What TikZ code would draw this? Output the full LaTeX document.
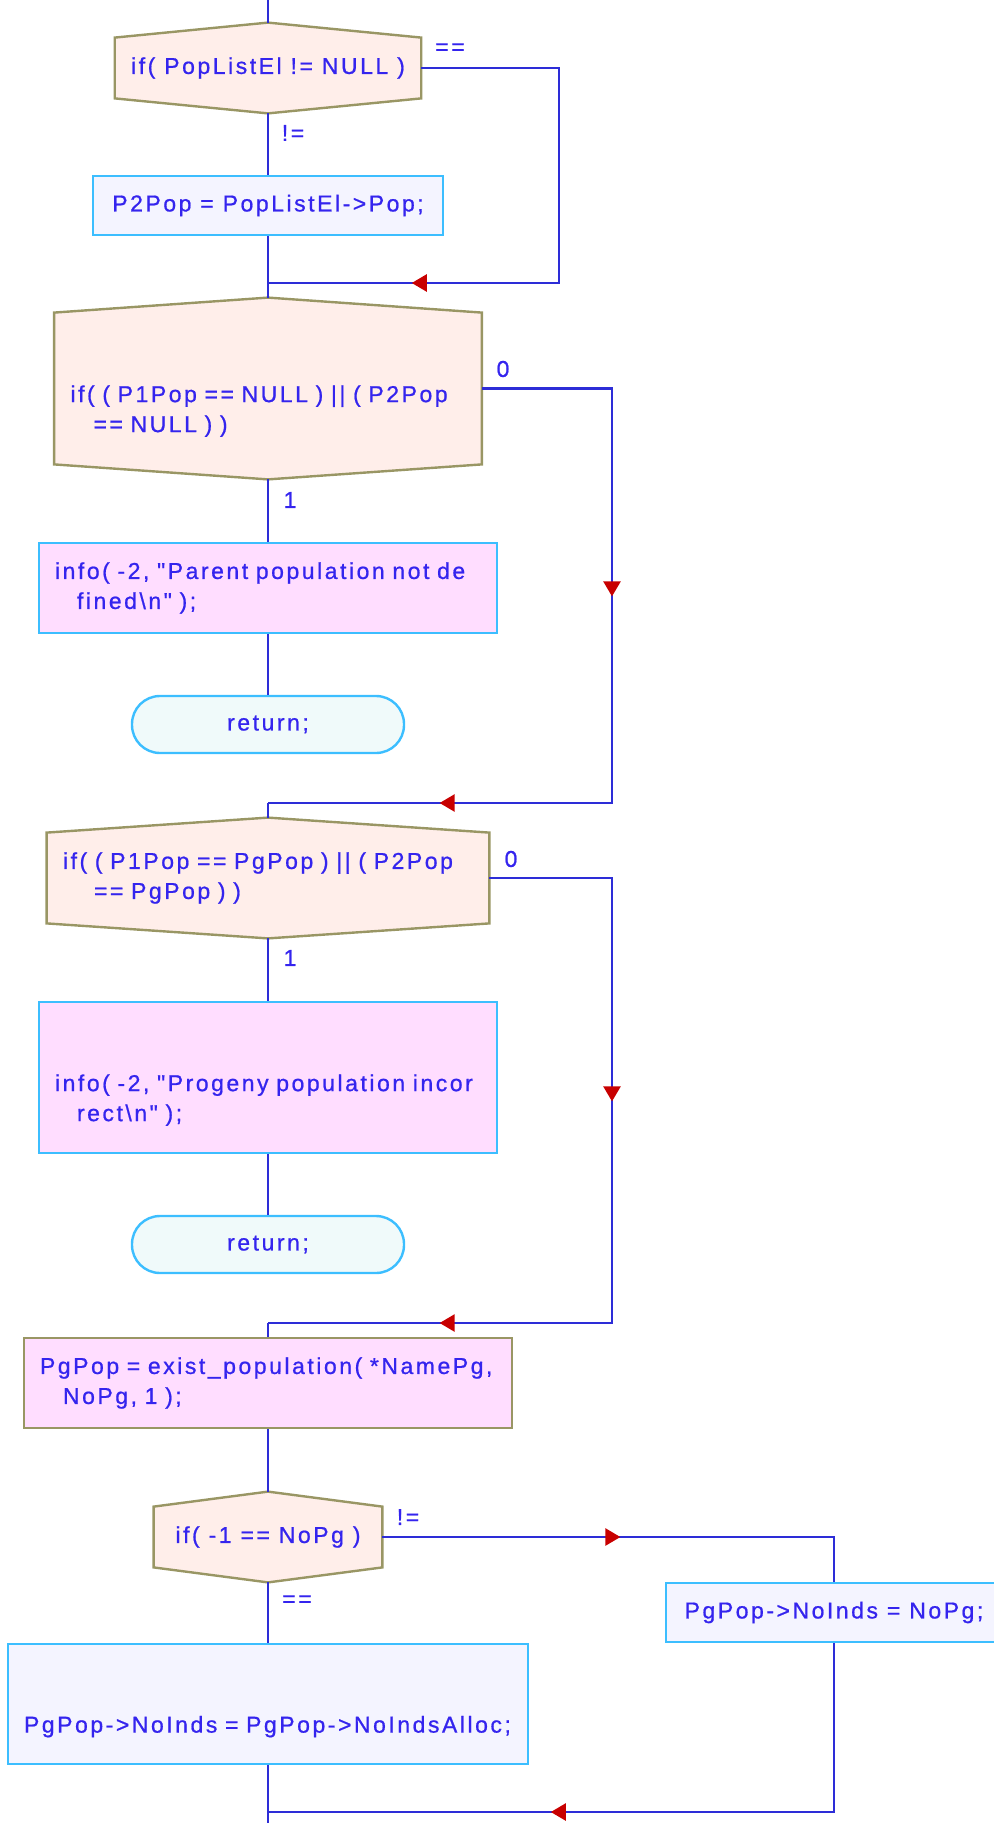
\documentclass[tikz,border=0pt]{standalone}
\usepackage{fontspec}
\setmainfont{Liberation Sans}[LetterSpace=11, Ligatures=TeXOff, FakeBold=0.8]
\usepackage{xcolor}
\usepackage{tikz}
\usetikzlibrary{
	arrows.meta,
	calc,
	backgrounds,
	decorations.markings,
	positioning,
	shapes.misc
}

\definecolor{txtblue}{RGB}{52,36,238}
\definecolor{lineblue}{RGB}{45,45,215}
\definecolor{tipred}{RGB}{200,0,0}
\definecolor{hexfill}{RGB}{255,238,234}
\definecolor{hexedge}{RGB}{153,150,100}
\definecolor{boxedge}{RGB}{60,190,255}
\definecolor{procfill}{RGB}{244,244,255}
\definecolor{infofill}{RGB}{255,221,255}
\definecolor{endfill}{RGB}{240,250,250}

\tikzset{
	every node/.style={font=\fontsize{11.5}{15}\selectfont, text=txtblue},
	flow/.style={draw=lineblue, line width=1.2pt},
	hexline/.style={draw=hexedge, fill=hexfill, line width=1.2pt},
	procbox/.style={draw=boxedge, fill=procfill, line width=1.2pt, inner xsep=8pt},
	infobox/.style={draw=boxedge, fill=infofill, line width=1.2pt, inner xsep=8pt},
	callbox/.style={draw=hexedge, fill=infofill, line width=1.2pt, inner xsep=8pt},
	endbox/.style={draw=boxedge, fill=endfill, line width=1.2pt, rounded corners=14pt},
	lbl/.style={inner sep=0pt},
	redtip/.tip={Triangle[length=7.5pt, width=8.5pt, color=tipred]},
	tipat/.style={postaction={decorate, decoration={markings, mark=at position #1 with {\arrow{redtip}}}}}
}

% hexagon behind a decision node, peaks named <node>-top / <node>-bot
\newcommand{\hexframe}[1]{%
	\begin{scope}[on background layer]
		\draw[hexline] (#1.north west) -- ($(#1.north)+(0,-15)$) coordinate (#1-top)
			-- (#1.north east) -- (#1.south east)
			-- ($(#1.south)+(0,15)$) coordinate (#1-bot) -- (#1.south west) -- cycle;
	\end{scope}}

\begin{document}
\begin{tikzpicture}[x=0.5pt, y=-0.5pt]
	\useasboundingbox (0,0) rectangle (993,1823);
	% rails on the right
	\coordinate (rail1) at (559,0);
	\coordinate (rail2) at (612,0);
	\coordinate (top0) at (268,0);
	\coordinate (bot0) at (268,1823);
	\coordinate (j1) at (268,283);
	\coordinate (j2) at (268,803);
	\coordinate (j3) at (268,1323);
	\coordinate (j4) at (268,1812);

	% PopListEl test
	\node[minimum width=152.5pt, minimum height=30pt, inner xsep=8pt] (h1) at (268,68) {if( PopListEl != NULL )};
	\hexframe{h1}
	\node[procbox, minimum width=175pt, minimum height=29.5pt] (p2) at (268,205.5) {P2Pop = PopListEl->Pop;};

	% parents defined?
	\node[text width=197.5pt, align=left, minimum height=75.5pt, inner xsep=8pt] (h2) at (268,388.5)
		{\mbox{}\\[16pt]\mbox{if( ( P1Pop == NULL ) || ( P2Pop}\\\hspace*{11.5pt}== NULL ) )};
	\hexframe{h2}
	\node[infobox, text width=213pt, align=left, minimum height=45pt] (i1) at (268,588)
		{\mbox{info( -2, "Parent population not de}\\\hspace*{11pt}fined\textbackslash n" );};
	\node[endbox, minimum width=136pt, minimum height=28.5pt] (r1) at (268,724.5) {return;};

	% progeny differs from parents?
	\node[text width=205pt, align=left, minimum height=45pt, inner xsep=8pt] (h3) at (268,878)
		{\mbox{if( ( P1Pop == PgPop ) || ( P2Pop}\\\hspace*{15.5pt}== PgPop ) )};
	\hexframe{h3}
	\node[infobox, text width=213pt, align=left, minimum height=75.5pt] (i2) at (268,1077.5)
		{\mbox{}\\[16pt]\mbox{info( -2, "Progeny population incor}\\\hspace*{11pt}rect\textbackslash n" );};
	\node[endbox, minimum width=136pt, minimum height=28.5pt] (r2) at (268,1244.5) {return;};

	% progeny population
	\node[callbox, text width=228pt, align=left, minimum height=45pt] (ex) at (268,1383)
		{\mbox{PgPop = exist\_population( *NamePg,}\\\hspace*{11.5pt}NoPg, 1 );};
	\node[minimum width=114pt, minimum height=30pt, inner xsep=8pt] (h4) at (268,1537) {if( -1 == NoPg )};
	\hexframe{h4}
	\node[procbox, text width=244pt, align=left, minimum height=60pt] (na) at (268,1704)
		{\mbox{}\\[16pt]\mbox{PgPop->NoInds = PgPop->NoIndsAlloc;}};
	\node[procbox, minimum width=168pt, minimum height=29.5pt] (np) at (834,1612.5) {PgPop->NoInds = NoPg;};

	% branch labels
	\node[lbl] (eq1) at (450,49) {==};
	\node[lbl] (ne1) at (293,133) {!=};
	\node[lbl] (no2) at (503,369) {0};
	\node[lbl] (yes2) at (290,500) {1};
	\node[lbl] (no3) at (511,859) {0};
	\node[lbl] (yes3) at (290,958) {1};
	\node[lbl] (ne4) at (408,1517) {!=};
	\node[lbl] (eq4) at (297,1601) {==};

	% main column
	\draw[flow] (top0) -- (h1-top);
	\draw[flow] (h1-bot) -- (p2.north);
	\draw[flow] (p2.south) -- (h2-top);
	\draw[flow] (h2-bot) -- (i1.north);
	\draw[flow] (i1.south) -- (r1.north);
	\draw[flow] (j2) -- (h3-top);
	\draw[flow] (h3-bot) -- (i2.north);
	\draw[flow] (i2.south) -- (r2.north);
	\draw[flow] (j3) -- (ex.north);
	\draw[flow] (ex.south) -- (h4-top);
	\draw[flow] (h4-bot) -- (na.north);
	\draw[flow] (na.south) -- (bot0);

	% side branches
	\draw[flow, tipat=250pt] (h1.east) -- (h1.east -| rail1) |- (j1);
	\draw[flow, tipat=169pt, tipat=358.5pt] (h2.east) -- (h2.east -| rail2) |- (j2);
	\draw[flow, tipat=173pt, tipat=370pt] (h3.east) -- (h3.east -| rail2) |- (j3);
	\draw[flow, tipat=119pt] (h4.east) -- (h4.east -| np) -- (np.north);
	\draw[flow, tipat=226pt] (np.south) |- (j4);
\end{tikzpicture}
\end{document}
